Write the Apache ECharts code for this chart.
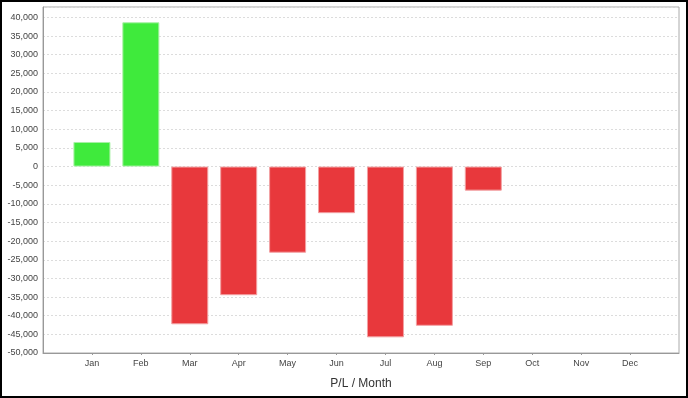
<!DOCTYPE html>
<html>
<head>
<meta charset="utf-8">
<script src="https://cdn.jsdelivr.net/npm/echarts@6/dist/echarts.min.js"></script>
<style>
html,body{margin:0;padding:0;background:#fff;}
#c{width:688px;height:398px;}
</style>
</head>
<body>
<div id="c"></div>
<script>
const months = ['Jan','Feb','Mar','Apr','May','Jun','Jul','Aug','Sep','Oct','Nov','Dec'];
const values = [6600, 38700, -42300, -34500, -23100, -12500, -45800, -42700, -6450, null, null, null];
const yTicks = [-50000, 40000, 5000]; // min, last labelled tick, step
const yMax = 42800;
const xTitle = 'P/L / Month';

const green = '#3fea3c', red = '#e8383c';
const idx = months.map((m, i) => i);
const chart = echarts.init(document.getElementById('c'), null, {renderer: 'canvas'});
const fmt = v => (v < 0 ? '-' : '') + Math.abs(v).toString().replace(/\B(?=(\d{3})+(?!\d))/g, ',');

chart.setOption({
  animation: false,
  backgroundColor: '#fff',
  textStyle: {fontFamily: 'Liberation Sans, Arial, sans-serif'},
  grid: {left: 43, top: 7, right: 9, bottom: 45, show: true, borderColor: '#aaa', borderWidth: 1, backgroundColor: '#fff'},
  xAxis: {
    type: 'value', min: -1, max: 12, interval: 1,
    name: xTitle, nameLocation: 'middle', nameGap: 25,
    nameTextStyle: {fontSize: 12, color: '#333', fontFamily: 'Liberation Sans, Arial, sans-serif'},
    axisLine: {show: true, onZero: false, lineStyle: {color: '#999', width: 1}},
    axisTick: {show: true, length: 2, customValues: idx, lineStyle: {color: '#999'}},
    axisLabel: {customValues: idx, fontSize: 9, color: '#444', margin: 6, formatter: v => months[Math.round(v)] || ''},
    splitLine: {show: false}
  },
  yAxis: {
    type: 'value', min: yTicks[0], max: yMax, interval: yTicks[2],
    axisLine: {show: true, onZero: false, lineStyle: {color: '#999', width: 1}},
    axisTick: {show: false},
    axisLabel: {fontSize: 9, color: '#444', margin: 5, showMaxLabel: false,
      formatter: v => (v % yTicks[2] === 0 && v <= yTicks[1]) ? fmt(v) : ''},
    splitLine: {show: true, lineStyle: {color: '#dcdcdc', type: [2, 2], width: 1}}
  },
  series: [{
    type: 'bar',
    barWidth: 37,
    data: values.map((v, i) => ({
      value: [i, v],
      itemStyle: {
        color: v >= 0 ? green : red,
        borderColor: v >= 0 ? '#a8f0a6' : '#f2a0a2',
        borderWidth: 1
      }
    }))
  }],
  graphic: [{
    type: 'rect', silent: true, z: 100,
    shape: {x: 1, y: 1, width: 686, height: 396},
    style: {fill: 'none', stroke: '#000', lineWidth: 2}
  }]
});
</script>
</body>
</html>
